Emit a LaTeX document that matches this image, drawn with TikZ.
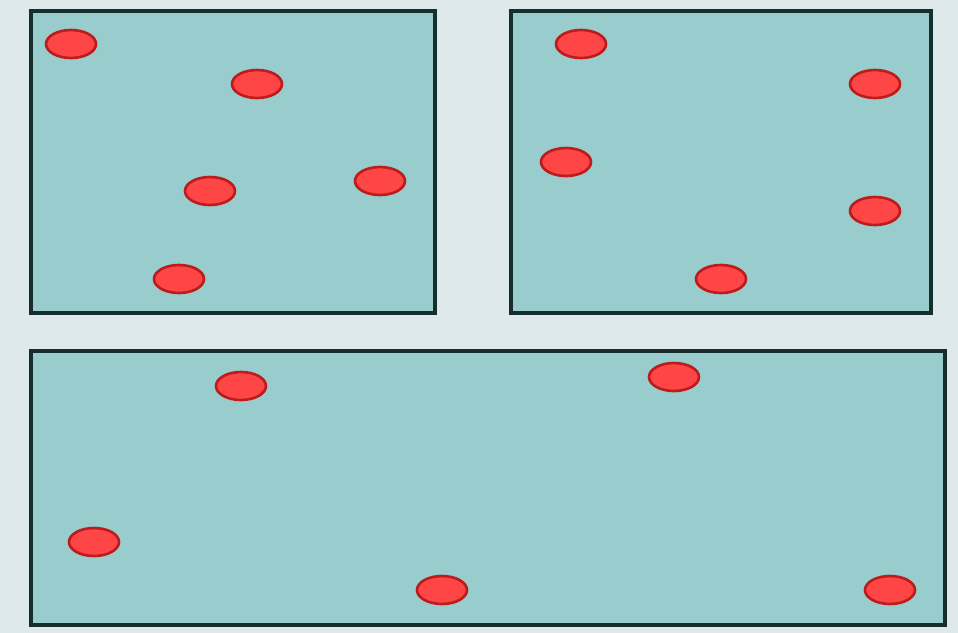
\documentclass[tikz,border=0pt]{standalone}
\usepackage{xcolor}
\usetikzlibrary{shapes.geometric}

\definecolor{panelfill}{RGB}{153,204,204}
\definecolor{paneledge}{RGB}{24,46,46}
\definecolor{dotfill}{RGB}{255,70,70}
\definecolor{dotedge}{RGB}{190,28,28}
\definecolor{backfill}{RGB}{222,233,235}

\begin{document}
\begin{tikzpicture}[
    x=0.02cm, y=-0.02cm,
    panel/.style={
        rectangle,
        draw=paneledge,
        fill=panelfill,
        line width=2.2pt
    },
    dot/.style={
        ellipse,
        draw=dotedge,
        fill=dotfill,
        line width=1.5pt,
        minimum width=1.0cm,
        minimum height=0.56cm,
        inner sep=0pt
    }
]

    % --- Background ---
    \fill[backfill] (0,0) rectangle (958,633);
    \useasboundingbox (0,0) rectangle (958,633);

    % --- Panels ---
    \draw[panel] (31,11) rectangle (435,313);
    \draw[panel] (511,11) rectangle (931,313);
    \draw[panel] (31,351) rectangle (945,625);

    % --- Top left panel ---
    \node[dot] (a1) at (71,44) {};
    \node[dot] (a2) at (257,84) {};
    \node[dot] (a3) at (210,191) {};
    \node[dot] (a4) at (380,181) {};
    \node[dot] (a5) at (179,279) {};

    % --- Top right panel ---
    \node[dot] (b1) at (581,44) {};
    \node[dot] (b2) at (875,84) {};
    \node[dot] (b3) at (566,162) {};
    \node[dot] (b4) at (875,211) {};
    \node[dot] (b5) at (721,279) {};

    % --- Bottom panel ---
    \node[dot] (c1) at (241,386) {};
    \node[dot] (c2) at (674,377) {};
    \node[dot] (c3) at (94,542) {};
    \node[dot] (c4) at (442,590) {};
    \node[dot] (c5) at (890,590) {};

\end{tikzpicture}
\end{document}
